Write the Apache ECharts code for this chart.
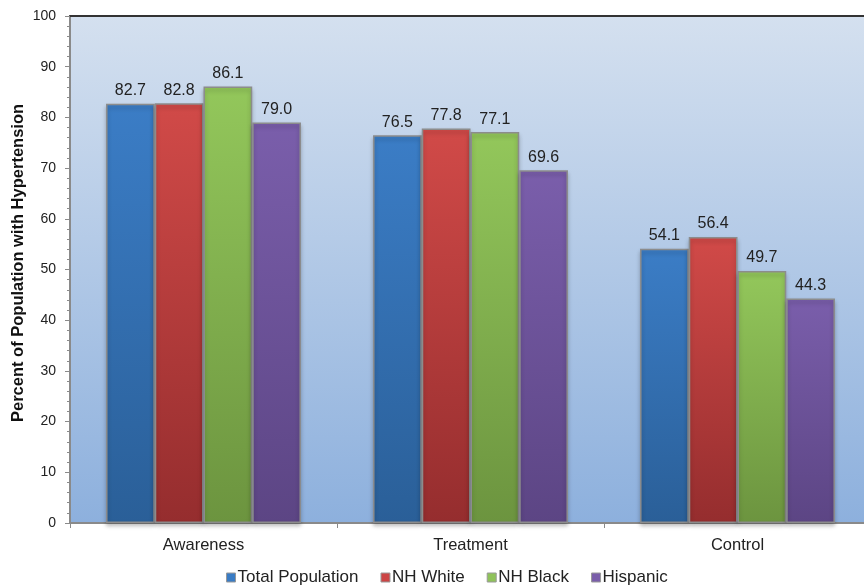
<!DOCTYPE html>
<html><head><meta charset="utf-8">
<script src="https://cdn.jsdelivr.net/npm/echarts@6/dist/echarts.min.js"></script>
<style>html,body{margin:0;padding:0;background:#fff}#c{width:864px;height:586px}</style>
</head><body><div id="c"></div>
<script>
const categories = ['Awareness', 'Treatment', 'Control'];
const seriesNames = ['Total Population', 'NH White', 'NH Black', 'Hispanic'];
const totalPopulation = [82.7, 76.5, 54.1];
const nhWhite = [82.8, 77.8, 56.4];
const nhBlack = [86.1, 77.1, 49.7];
const hispanic = [79.0, 69.6, 44.3];
const yTicks = [0, 10, 20, 30, 40, 50, 60, 70, 80, 90, 100];
const yTitle = 'Percent of Population with Hypertension';

const values = [totalPopulation, nhWhite, nhBlack, hispanic];
const grads = [
  ['#3b7dc6', '#2a5f98'],
  ['#d14a48', '#952d2e'],
  ['#93c75b', '#6c943f'],
  ['#7a5eab', '#5c4584']
];
const legendColors = ['#3a7cc4', '#cc4444', '#8fc25a', '#7a5eaa'];
function lg(a, b) {
  return new echarts.graphic.LinearGradient(0, 0, 0, 1, [{offset: 0, color: a}, {offset: 1, color: b}]);
}
const chart = echarts.init(document.getElementById('c'), null, {renderer: 'canvas'});
chart.setOption({
  animation: false,
  textStyle: {fontFamily: 'Liberation Sans, Arial, sans-serif'},
  grid: {
    left: 70, top: 16, width: 801, height: 507,
    outerBoundsMode: 'none', containLabel: false,
    show: true, borderWidth: 0,
    backgroundColor: lg('#d4e0ef', '#8db0dd')
  },
  graphic: [{
    type: 'text', x: 18, y: 263, rotation: Math.PI / 2,
    style: {text: yTitle, align: 'center', verticalAlign: 'middle',
      font: 'bold 16.5px "Liberation Sans", Arial, sans-serif', fill: '#111'}
  }],
  legend: {
    top: 564, left: 221,
    itemWidth: 9, itemHeight: 9, itemGap: 22,
    icon: 'rect',
    textStyle: {fontSize: 17, color: '#222', padding: [0, 0, 0, -3]},
    data: seriesNames.map((n, i) => ({name: n, itemStyle: {color: legendColors[i], borderColor: '#999', borderWidth: 1}}))
  },
  xAxis: [{
    type: 'category', data: categories,
    axisLine: {lineStyle: {color: '#8a8a8a', width: 2}},
    axisTick: {show: true, length: 5, lineStyle: {color: '#8a8a8a'}},
    axisLabel: {fontSize: 16.5, color: '#222', margin: 14}
  }, {
    type: 'category', data: categories, position: 'top',
    axisLine: {show: true, lineStyle: {color: '#333', width: 2}},
    axisTick: {show: false}, axisLabel: {show: false}
  }],
  yAxis: {
    type: 'value', min: 0, max: 100, interval: 10,
    axisLine: {show: true, lineStyle: {color: '#8a8a8a', width: 2}},
    axisTick: {show: true, length: 5, lineStyle: {color: '#8a8a8a'}},
    minorTick: {show: true, splitNumber: 5, length: 3, lineStyle: {color: '#8a8a8a'}},
    splitLine: {show: false},
    axisLabel: {fontSize: 14, color: '#222', margin: 14,
      formatter: v => yTicks.includes(v) ? String(v) : ''}
  },
  series: seriesNames.map((n, i) => ({
    name: n, type: 'bar', data: values[i],
    barGap: '0%', barCategoryGap: '27%',
    itemStyle: {color: lg(grads[i][0], grads[i][1]), borderColor: '#8c8c8c', borderWidth: 1.5,
      shadowColor: 'rgba(0,0,0,0.25)', shadowBlur: 4, shadowOffsetY: 3},
    label: {show: true, position: 'top', distance: 5, fontSize: 16, color: '#222',
      formatter: p => p.value.toFixed(1)}
  }))
});
</script></body></html>
